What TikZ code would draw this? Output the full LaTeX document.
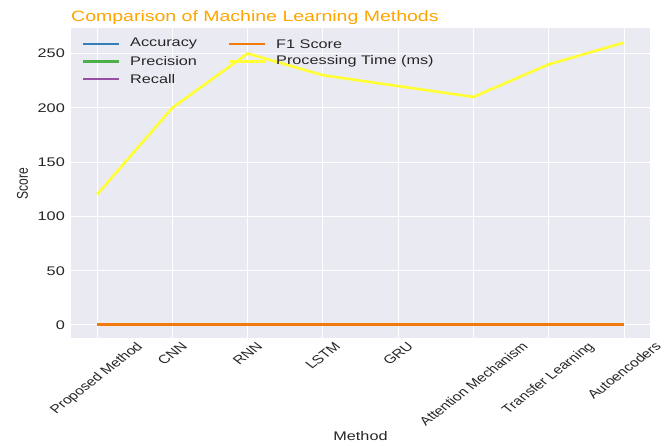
\documentclass[tikz,border=0pt]{standalone}
\usepackage{fontspec}
\setmainfont{Liberation Sans}
\usepackage{graphicx}

\definecolor{panel}{HTML}{EAEAF2}
\definecolor{ink}{HTML}{262626}
\definecolor{titleorange}{HTML}{FFA500}
\definecolor{cAcc}{HTML}{377EB8}
\definecolor{cPrec}{HTML}{4DAF4A}
\definecolor{cRec}{HTML}{984EA3}
\definecolor{cF1}{HTML}{F27A0C}
\definecolor{cTime}{HTML}{FFFF33}

% text is drawn 1.3 times wider than tall
\newcommand\wide[1]{\scalebox{1.3}[1]{#1}}
\newcommand\tilted[1]{\scalebox{1.3}[1]{\rotatebox{45}{#1}}}

\tikzset{
  gridline/.style={draw=white, line width=1pt},
  ytick/.style={anchor=east, inner sep=0pt, text=ink, font=\fontsize{12.5}{14}\selectfont},
  xtick/.style={anchor=north, inner sep=0pt, text=ink, font=\fontsize{12}{14}\selectfont},
  axislabel/.style={inner sep=0pt, text=ink, font=\fontsize{12.5}{14}\selectfont},
  legendtext/.style={anchor=west, inner sep=0pt, text=ink, font=\fontsize{12.5}{14}\selectfont},
  series/.style={line width=2.6pt, line join=round},
}

\begin{document}
\begin{tikzpicture}[x=1pt, y=-1pt]
  \useasboundingbox[fill=white] (0,0) rectangle (672,446);

  % plotting panel
  \fill[panel] (70.6,28.5) rectangle (650.4,338);

  % vertical grid lines and method labels
  \foreach \i/\name in {0/Proposed Method,1/CNN,2/RNN,3/LSTM,4/GRU,5/Attention Mechanism,6/Transfer Learning,7/Autoencoders} {
    \pgfmathsetmacro\xx{97+75.286*\i}
    \draw[gridline] (\xx,28.5) -- (\xx,338);
    \node[xtick] (xt\i) at (\xx,341) {\tilted{\name}};
  }

  % horizontal grid lines and score labels
  \foreach \v in {0,50,100,150,200,250} {
    \pgfmathsetmacro\yy{325-1.086*\v}
    \draw[gridline] (70.6,\yy) -- (650.4,\yy);
    \node[ytick] (yt\v) at (65,\yy) {\wide{\v}};
  }

  % data points of every series
  \foreach \i/\t in {0/120,1/200,2/250,3/230,4/220,5/210,6/240,7/260} {
    \pgfmathsetmacro\xx{97+75.286*\i}
    \pgfmathsetmacro\yt{325-1.086*\t}
    \pgfmathsetmacro\ys{325-1.086*0.9}
    \coordinate (t\i) at (\xx,\yt);
    \coordinate (s\i) at (\xx,\ys);
  }

  \draw[series, cAcc]  (s0) -- (s7);
  \draw[series, cPrec] (s0) -- (s7);
  \draw[series, cRec]  (s0) -- (s7);
  \draw[series, cF1, line width=3pt] (s0) -- (s7);
  \draw[series, cTime] (t0) -- (t1) -- (t2) -- (t3) -- (t4) -- (t5) -- (t6) -- (t7);

  % legend
  \foreach \n/\c/\x/\y/\lab in {la/cAcc/83/44/Accuracy, lp/cPrec/83/61.5/Precision, lr/cRec/83/79/Recall, lf/cF1/229/44/F1 Score, lt/cTime/229/61.5/Processing Time (ms)} {
    \coordinate (\n a) at (\x,\y);
    \coordinate (\n b) at (\x+36,\y);
    \draw[series, \c] (\n a) -- (\n b);
    \node[legendtext] (\n) at (\x+47,\y) {\wide{\lab}};
  }

  % title and axis labels
  \node[anchor=base west, inner sep=0pt, text=titleorange, font=\fontsize{15}{18}\selectfont] (title) at (71,22) {\wide{Comparison of Machine Learning Methods}};
  \node[axislabel] (xlabel) at (360.5,436) {\wide{Method}};
  \node[axislabel, font=\fontsize{12}{14}\selectfont] (ylabel) at (22.5,183.5) {\wide{\rotatebox{90}{Score}}};
\end{tikzpicture}
\end{document}
